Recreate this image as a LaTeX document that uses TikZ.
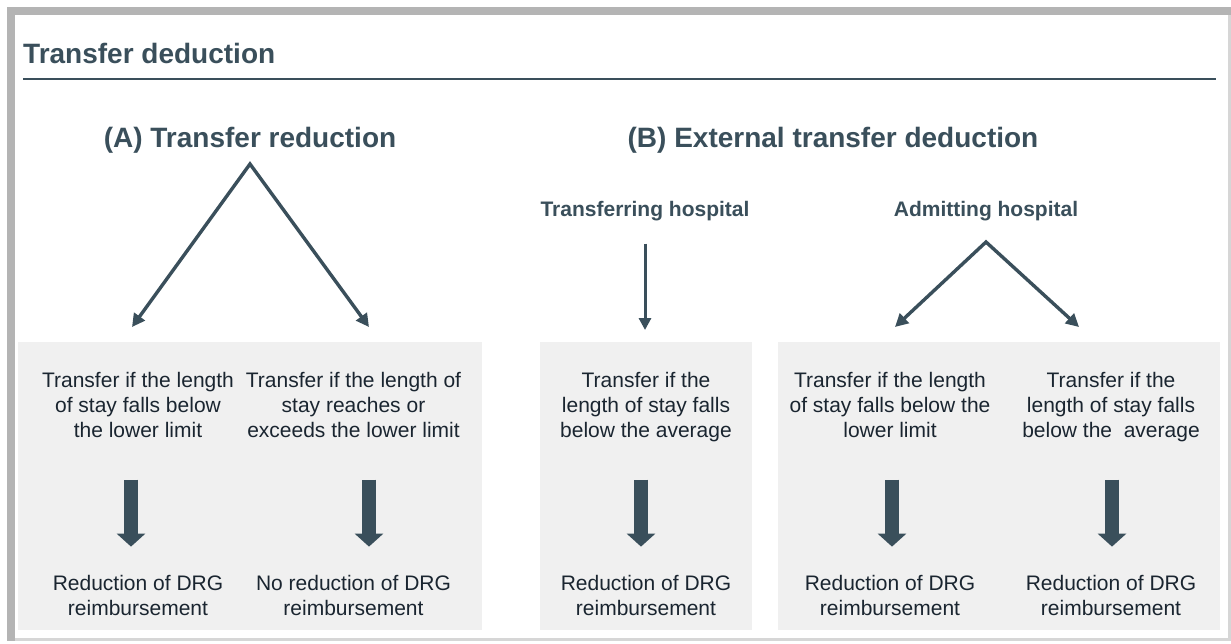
\documentclass[tikz,border=0pt]{standalone}
\usepackage{fontspec}
\setmainfont{Liberation Sans}
\usetikzlibrary{arrows.meta,positioning}
\definecolor{slate}{HTML}{3A4F5B}
\definecolor{ink}{HTML}{1A2530}
\definecolor{panelgray}{HTML}{F0F0F0}
\definecolor{framedark}{HTML}{B4B4B4}
\definecolor{framelight}{HTML}{D6D6D6}
\begin{document}
\begin{tikzpicture}[x=1pt,y=-1pt,
  bighead/.style={font=\fontsize{28}{34}\selectfont\bfseries, text=slate, inner sep=0pt},
  smallhead/.style={font=\fontsize{21}{25}\selectfont\bfseries, text=slate, inner sep=0pt, anchor=base},
  cond/.style={font=\fontsize{21}{25}\selectfont, text=ink, align=center, inner sep=0pt, anchor=north, text depth=5pt},
  result/.style={font=\fontsize{21}{25}\selectfont, text=ink, align=center, inner sep=0pt, below=132pt of #1},
  thinarrow/.style={draw=slate, line width=3.4pt, {Triangle[length=13pt,width=13pt]}-{Triangle[length=13pt,width=13pt]}},
  downarrow/.style={draw=slate, line width=3pt, -{Triangle[length=12pt,width=12pt]}},
  fatarrow/.style={draw=slate, line width=14pt, -{Triangle[length=13pt,width=28pt]}, shorten <=37pt, shorten >=28pt}]
\useasboundingbox (0,0) rectangle (1231,643);
% Frame
\fill[framelight] (7,7) rectangle (1231,641);
\fill[white] (15,15) rectangle (1228,638);
\fill[framedark] (7,7) rectangle (1231,15);
\fill[framedark] (7,7) rectangle (15,641);
% Title and rule
\node[bighead, anchor=base west] (title) at (23,63) {Transfer deduction};
\draw[slate, line width=2pt] (23,79) -- (1216,79);
% Grey panels
\fill[panelgray] (18,342) rectangle (482,630);
\fill[panelgray] (540,342) rectangle (752,630);
\fill[panelgray] (778,342) rectangle (1220,630);
% Headings
\node[bighead, anchor=base] (headA) at (250,147) {(A) Transfer reduction};
\node[bighead, anchor=base] (headB) at (833,147) {(B) External transfer deduction};
\node[smallhead] (transferring) at (645,216) {Transferring hospital};
\node[smallhead] (admitting) at (986,216) {Admitting hospital};
% Branching arrows
\coordinate (apexA) at (250,164);
\coordinate (tipA1) at (132,327);
\coordinate (tipA2) at (369,327);
\draw[thinarrow] (tipA1) -- (apexA) -- (tipA2);
\coordinate (tipT) at (645,330);
\draw[downarrow, shorten <=23pt] (transferring.south) -- (tipT);
\coordinate (apexB) at (986,242);
\coordinate (tipB1) at (895,327);
\coordinate (tipB2) at (1079,327);
\draw[thinarrow] (tipB1) -- (apexB) -- (tipB2);
% Conditions
\node[cond] (c1) at (138,372) {Transfer if the length\\of stay falls below\\the lower limit};
\node[cond] (c2) at (353.5,372) {Transfer if the length of\\stay reaches or\\exceeds the lower limit};
\node[cond] (c3) at (646,372) {Transfer if the\\length of stay falls\\below the average};
\node[cond] (c4) at (890,372) {Transfer if the length\\of stay falls below the\\lower limit};
\node[cond] (c5) at (1111,372) {Transfer if the\\length of stay falls\\below the~ average};
% Results
\node[result=c1] (r1) {Reduction of DRG\\reimbursement};
\node[result=c2] (r2) {No reduction of DRG\\reimbursement};
\node[result=c3] (r3) {Reduction of DRG\\reimbursement};
\node[result=c4] (r4) {Reduction of DRG\\reimbursement};
\node[result=c5] (r5) {Reduction of DRG\\reimbursement};
% Block arrows
\draw[fatarrow] ([xshift=-7pt]c1.south) -- ([xshift=-7pt]r1.north);
\draw[fatarrow] ([xshift=15.5pt]c2.south) -- ([xshift=15.5pt]r2.north);
\draw[fatarrow] ([xshift=-5pt]c3.south) -- ([xshift=-5pt]r3.north);
\draw[fatarrow] ([xshift=2pt]c4.south) -- ([xshift=2pt]r4.north);
\draw[fatarrow] ([xshift=1pt]c5.south) -- ([xshift=1pt]r5.north);
\end{tikzpicture}
\end{document}
